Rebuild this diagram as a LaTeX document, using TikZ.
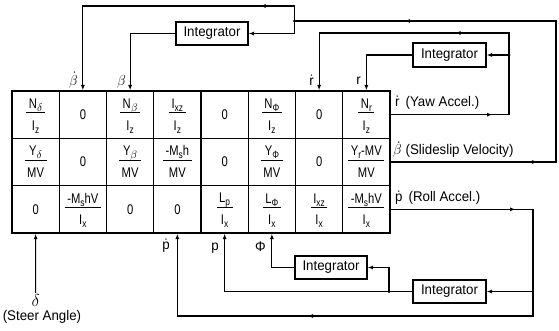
\documentclass[tikz,border=0pt]{standalone}
\usepackage{amsmath}
\usepackage{fontspec}
\setmainfont{Liberation Sans}[FakeStretch=0.95]
\newfontfamily\cellfont{Liberation Sans}[FakeStretch=0.8]
\usetikzlibrary{arrows.meta,decorations.markings,calc}
\newcommand\lo[1]{\raisebox{-0.4ex}{\fontsize{10.5}{12}\selectfont #1}}
\newcommand\fr[2]{{\setlength\arrayrulewidth{0.9pt}\begin{tabular}{@{\hspace{2.5pt}}c@{\hspace{2.5pt}}}\rule{0pt}{14pt}#1\\[-1pt]\hline\rule{0pt}{17pt}#2\end{tabular}}}
\tikzset{
  ln/.style={line width=1.1pt},
  tip/.style={-{Latex[length=5.5pt,width=4pt]}},
  cell/.style={draw, line width=1.1pt, minimum width=47.25pt, minimum height=47.33pt, inner sep=0pt, font=\cellfont\fontsize{14}{16}\selectfont},
  integ/.style={draw, line width=1.1pt, minimum width=72pt, minimum height=23pt, inner sep=0pt, font=\fontsize{14}{16}\selectfont},
  lbl/.style={inner sep=1pt, font=\fontsize{14}{16}\selectfont},
  marr/.style={postaction={decorate, decoration={markings, mark=at position #1 with {\arrow{Latex[length=5.5pt,width=4pt]}}}}},
  jdot/.style={circle, fill, inner sep=0pt, minimum size=3.2pt}
}
\begin{document}
\begin{tikzpicture}[x=1pt,y=-1pt]
\useasboundingbox (0,0) rectangle (559,331);
% table cells
\node[cell] (m11) at (35.625,114.667) {\fr{N\lo{$\delta$}}{I\lo{z}}};
\node[cell] (m12) at (82.875,114.667) {0};
\node[cell] (m13) at (130.125,114.667) {\fr{N\lo{$\beta$}}{I\lo{z}}};
\node[cell] (m14) at (177.375,114.667) {\fr{I\lo{xz}}{I\lo{z}}};
\node[cell] (m15) at (224.625,114.667) {0};
\node[cell] (m16) at (271.875,114.667) {\fr{N\lo{Φ}}{I\lo{z}}};
\node[cell] (m17) at (319.125,114.667) {0};
\node[cell] (m18) at (366.375,114.667) {\fr{N\lo{r}}{I\lo{z}}};
\node[cell] (m21) at (35.625,162) {\fr{Y\lo{$\delta$}}{MV}};
\node[cell] (m22) at (82.875,162) {0};
\node[cell] (m23) at (130.125,162) {\fr{Y\lo{$\beta$}}{MV}};
\node[cell] (m24) at (177.375,162) {\fr{-M\lo{s}h}{MV}};
\node[cell] (m25) at (224.625,162) {0};
\node[cell] (m26) at (271.875,162) {\fr{Y\lo{Φ}}{MV}};
\node[cell] (m27) at (319.125,162) {0};
\node[cell] (m28) at (366.375,162) {\fr{Y\lo{r}-MV}{MV}};
\node[cell] (m31) at (35.625,209.333) {0};
\node[cell] (m32) at (82.875,209.333) {\fr{-M\lo{s}hV}{I\lo{x}}};
\node[cell] (m33) at (130.125,209.333) {0};
\node[cell] (m34) at (177.375,209.333) {0};
\node[cell] (m35) at (224.625,209.333) {\fr{L\lo{p}}{I\lo{x}}};
\node[cell] (m36) at (271.875,209.333) {\fr{L\lo{Φ}}{I\lo{x}}};
\node[cell] (m37) at (319.125,209.333) {\fr{I\lo{xz}}{I\lo{x}}};
\node[cell] (m38) at (366.375,209.333) {\fr{-M\lo{s}hV}{I\lo{x}}};
% integrators
\node[integ] (int1) at (212,33.5) {Integrator};
\node[integ, minimum width=73pt, minimum height=24pt] (int2) at (449.5,55) {Integrator};
\node[integ, minimum width=73pt] (int3) at (449.5,291.5) {Integrator};
\node[integ] (int4) at (331,267.5) {Integrator};
% helper coordinates
\coordinate (yT) at (0,6);
\coordinate (yT2) at (0,21);
\coordinate (yT3) at (0,33);
\coordinate (yB) at (0,316);
\coordinate (xR) at (556,0);
\coordinate (xR2) at (509,0);
\coordinate (xR3) at (533,0);
\coordinate (xJ1) at (294.5,0);
\coordinate (xJ4) at (389,0);
\coordinate (J1) at (xJ1 |- yT2);
\coordinate (J2) at (xR2 |- int2.east);
\coordinate (J3) at (xR3 |- int3.east);
\coordinate (J4) at (xJ4 |- int3.west);
% sideslip loop
\draw[ln, marr=147pt, marr=458pt] (m28.east) -- (m28.east -| xR) -- (xR |- yT2) -- (J1);
\draw[ln, tip, marr=49.5pt] (J1) -- (xJ1 |- yT) -- (m12.north |- yT) -- (m12.north);
\draw[ln, tip] (J1) -- (xJ1 |- int1.east) -- (int1.east);
\draw[ln, tip] (int1.west) -- (int1.west -| m13.north) -- (m13.north);
\node[jdot] (d1) at (J1) {};
% yaw loop
\draw[ln, marr=102pt] (m18.east) -- (m18.east -| xR2) -- (J2);
\draw[ln, tip] (J2) -- (int2.east);
\draw[ln, tip, marr=76pt] (J2) -- (xR2 |- yT3) -- (m17.north |- yT3) -- (m17.north);
\draw[ln, tip] (int2.west) -- (int2.west -| m18.north) -- (m18.north);
\node[jdot] (d2) at (J2) {};
% roll loop
\draw[ln, marr=125pt] (m38.east) -- (m38.east -| xR3) -- (J3);
\draw[ln, tip] (J3) -- (int3.east);
\draw[ln, tip, marr=250pt] (J3) -- (xR3 |- yB) -- (m34.south |- yB) -- (m34.south);
\draw[ln, tip] (int3.west) -- (int3.west -| m35.south) -- (m35.south);
\draw[ln, tip] (J4) -- (J4 |- int4.east) -- (int4.east);
\draw[ln, tip] (int4.west) -- (int4.west -| m36.south) -- (m36.south);
\node[jdot] (d4) at (J4) {};
% steer input
\node[lbl, font=\fontsize{16}{18}\selectfont] (delta) at (35.6,300) {$\delta$};
\node[lbl] (steer) at (42,317) {(Steer Angle)};
\draw[ln, tip] (delta.north) -- (m31.south);
% signal labels
\node[lbl, anchor=east] (lbd) at (79,80) {$\dot\beta$};
\node[lbl, anchor=east] (lb) at (127,82) {$\beta$};
\node[lbl, anchor=east] (lrd) at (315,80) {$\dot{\text{r}}$};
\node[lbl, anchor=east] (lr) at (362,81) {r};
\node[lbl, anchor=east] (lpd) at (171,246) {$\dot{\text{p}}$};
\node[lbl, anchor=east] (lp) at (220,248) {p};
\node[lbl, anchor=east] (lphi) at (267,247) {Φ};
\node[lbl, anchor=south west] (yaw) at (394,111) {$\dot{\text{r}}$\hspace{6pt}(Yaw Accel.)};
\node[lbl, anchor=south west] (slip) at (392,159) {$\dot\beta$ (Slideslip Velocity)};
\node[lbl, anchor=south west] (roll) at (394,206) {$\dot{\text{p}}$\hspace{6pt}(Roll Accel.)};
\end{tikzpicture}
\end{document}
